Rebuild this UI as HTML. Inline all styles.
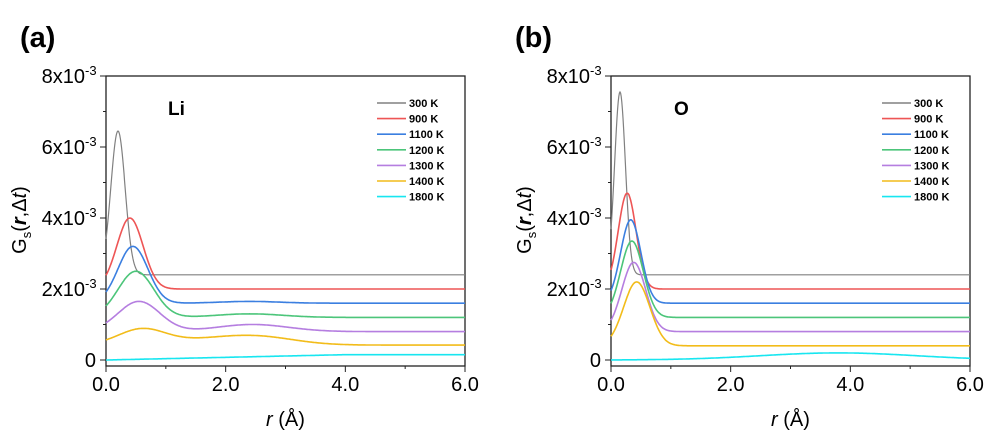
<!DOCTYPE html>
<html><head><meta charset="utf-8"><style>
body{margin:0;background:#fff;width:986px;height:434px;overflow:hidden}
svg{display:block;font-family:"Liberation Sans",Arial,sans-serif}
</style></head><body>
<svg id="s" width="986" height="434" viewBox="0 0 986 434"></svg>
<script>
const s=document.getElementById('s');let h='';
const cols=['#808080','#ee5555','#3b7fe0','#4cc57a','#b57ee0','#f2bc1a','#18e6f0'];
const labs=['300 K','900 K','1100 K','1200 K','1300 K','1400 K','1800 K'];
const g=(r,m,sd)=>Math.exp(-(r-m)*(r-m)/(2*sd*sd));
const Li=[
 r=>2.4+4.05*g(r,0.2,0.12),
 r=>2.0+2.0*g(r,0.4,0.22),
 r=>1.6+1.6*g(r,0.45,0.25)+0.05*g(r,2.4,0.5),
 r=>1.2+1.3*g(r,0.5,0.3)+0.1*g(r,2.4,0.55),
 r=>0.8+0.85*g(r,0.55,0.35)+0.2*g(r,2.45,0.6),
 r=>0.42+0.45*g(r,0.6,0.4)+0.26*g(r,2.45,0.65)+0.08*g(r,1.5,0.5),
 r=>Math.min(0.15,0.15*r/4)
];
const O=[
 r=>2.4+5.15*g(r,0.15,0.09),
 r=>2.0+2.7*g(r,0.27,0.15),
 r=>1.6+2.35*g(r,0.33,0.17),
 r=>1.2+2.15*g(r,0.35,0.19),
 r=>0.8+1.95*g(r,0.38,0.2),
 r=>0.4+1.8*g(r,0.43,0.22),
 r=>0.2*g(r,3.8,1.3)
];
function panel(x0,x1,fs,letter,elem,ex,lx){
 const y0=360,yt=76,sy=(y0-yt)/8;
 const X=r=>x0+(x1-x0)*r/6, Y=v=>y0-v*sy;
 h+=`<text x="${letter}" y="47" font-size="29" font-weight="bold">(${letter==20?'a':'b'})</text>`;
 h+=`<rect x="${x0}" y="${yt}" width="${x1-x0}" height="${366-yt}" fill="none" stroke="#222" stroke-width="1.3"/>`;
 for(let i=0;i<=8;i++){const y=Y(i);h+=`<line x1="${x0}" x2="${x0-(i%2?3:6)}" y1="${y}" y2="${y}" stroke="#222"/>`;}
 for(let i=0;i<=6;i++){const x=X(i);h+=`<line x1="${x}" x2="${x}" y1="366" y2="${366+(i%2?3:6)}" stroke="#222"/>`;}
 [['0',0],['2x10',2],['4x10',4],['6x10',6],['8x10',8]].forEach(([t,v])=>{
  if(v==0)h+=`<text x="${x0-10}" y="${Y(0)+7}" font-size="20" text-anchor="end">0</text>`;
  else h+=`<text x="${x0-21}" y="${Y(v)+7}" font-size="20" text-anchor="end">${t}</text><text x="${x0-21}" y="${Y(v)-1}" font-size="13">-3</text>`;
 });
 ['0.0','2.0','4.0','6.0'].forEach((t,i)=>h+=`<text x="${X(2*i)}" y="391" font-size="20" text-anchor="middle">${t}</text>`);
 h+=`<text x="${(x0+x1)/2}" y="426" font-size="20" text-anchor="middle"><tspan font-style="italic">r</tspan> (Å)</text>`;
 h+=`<text transform="translate(${x0-80},220) rotate(-90)" font-size="20" text-anchor="middle">G<tspan font-size="13" dy="5">s</tspan><tspan dy="-5">(</tspan><tspan font-weight="bold" font-style="italic">r</tspan>,Δ<tspan font-style="italic">t</tspan>)</text>`;
 h+=`<text x="${ex}" y="115" font-size="19" font-weight="bold">${elem}</text>`;
 fs.forEach((f,k)=>{let d='';for(let i=0;i<=600;i++){const r=i/100;d+=(i?'L':'M')+X(r).toFixed(1)+' '+Y(f(r)).toFixed(1);}
  h+=`<path d="${d}" fill="none" stroke="${cols[k]}" stroke-width="${k==0?1.2:1.6}"/>`;
  const ly=103+k*15.6;
  h+=`<line x1="${lx}" x2="${lx+29}" y1="${ly}" y2="${ly}" stroke="${cols[k]}" stroke-width="1.6"/><text x="${lx+32}" y="${ly+4}" font-size="11" font-weight="bold">${labs[k]}</text>`;
 });
}
panel(106,465,Li,20,'Li',168,377);
panel(611,970,O,515,'O',674,882);
s.innerHTML=h;
</script>
</body></html>
